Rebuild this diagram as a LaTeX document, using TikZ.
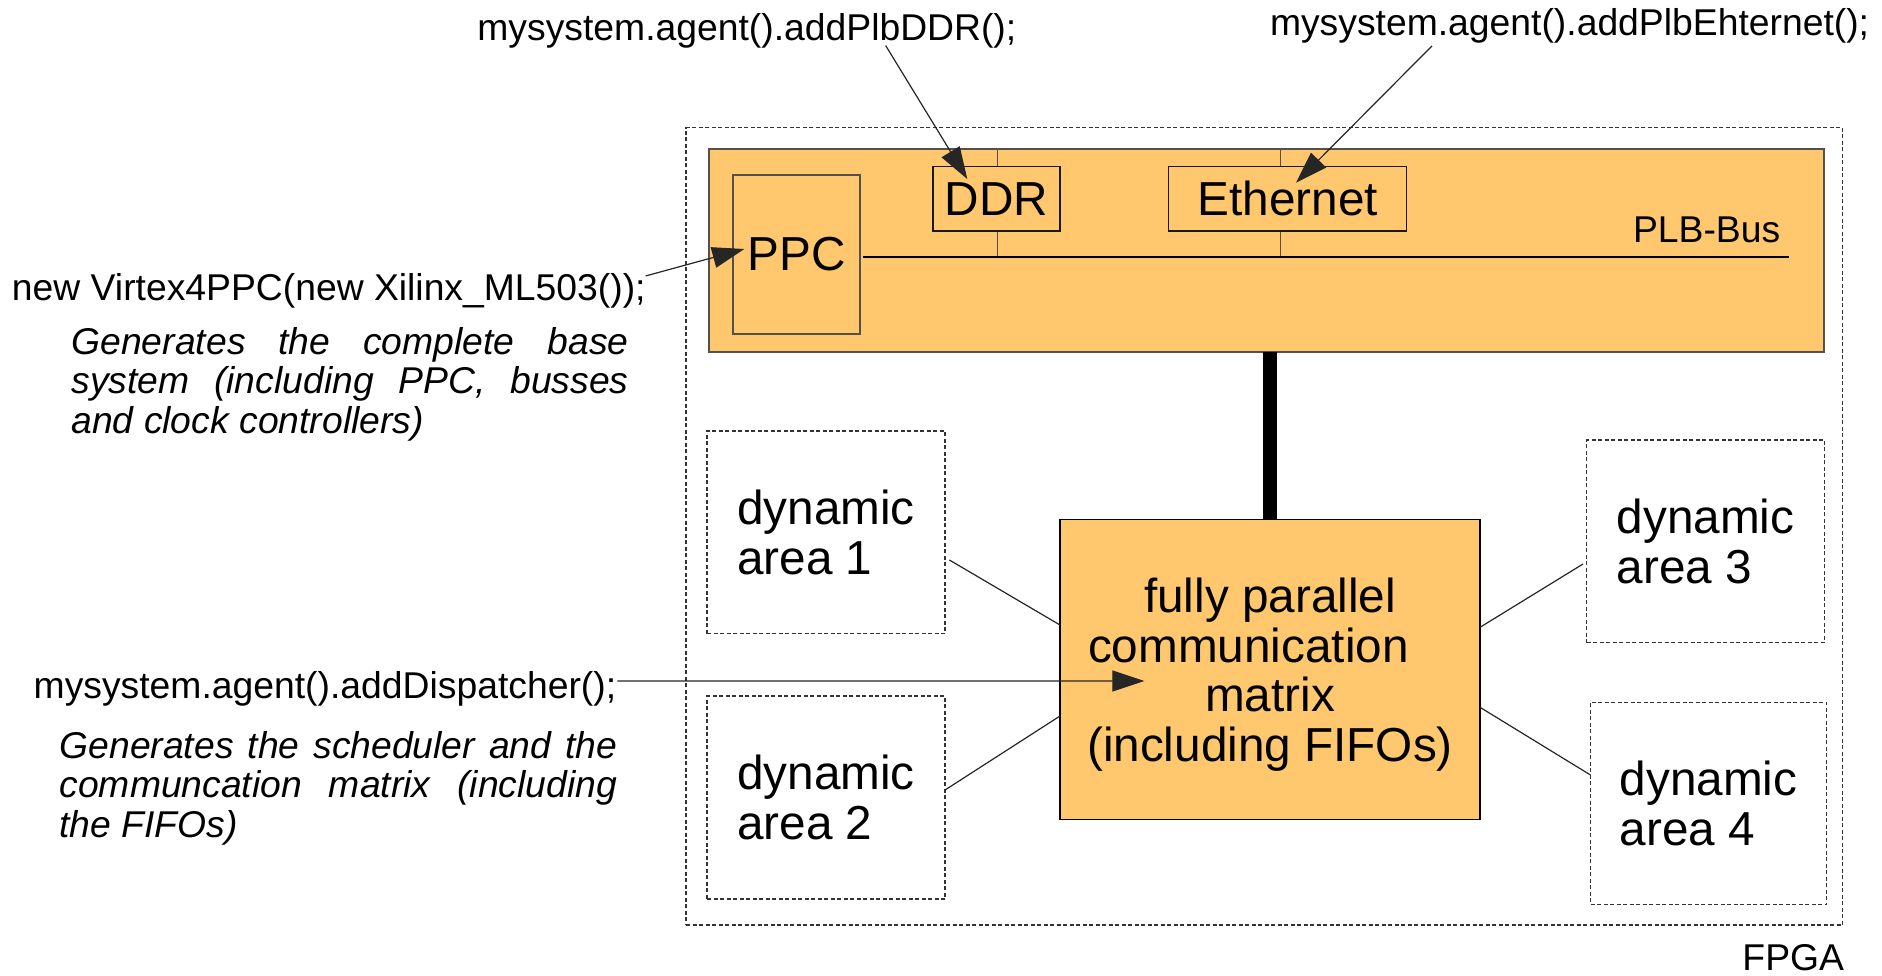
\documentclass[tikz,border=0pt]{standalone}
\usepackage{fontspec}
\setmainfont{Liberation Sans}
\usetikzlibrary{arrows.meta}
\definecolor{orfill}{RGB}{255,199,110}
\definecolor{bord}{RGB}{85,80,72}
\begin{document}
\begin{tikzpicture}[x=1pt,y=-1pt,
  box/.style={draw=bord, fill=orfill, line width=1.6pt, inner sep=0pt, outer sep=0pt},
  dashbox/.style={draw=black!80, line width=1.1pt, dash pattern=on 4pt off 2.5pt, inner sep=0pt, outer sep=0pt},
  code/.style={inner sep=0pt, outer sep=0pt, font=\fontsize{37.3}{39.3}\selectfont},
  big/.style={font=\fontsize{47.7}{49.5}\selectfont},
  desc/.style={inner sep=0pt, outer sep=0pt, align=left, font=\fontsize{37.3}{39.3}\selectfont\itshape},
  conn/.style={line width=1.2pt, draw=black!85},
  arr/.style={line width=1.2pt, draw=black!85, -{Triangle[length=32pt,width=21pt]}},
]
\fill[white] (0,0) rectangle (1882,975);
\useasboundingbox (0,0) rectangle (1882,975);

% FPGA frame
\node[dashbox, minimum width=1156.5pt, minimum height=797.5pt] (fpga) at (1264.25,526.25) {};
\node[code, anchor=base east] (fpgalbl) at (1844,970) {FPGA};

% PLB region
\node[box, minimum width=1115pt, minimum height=203pt] (plb) at (1266.5,250.5) {};
\coordinate (busL) at (862.7,257.3);
\coordinate (busR) at (1789,257.3);
\coordinate (ddrTap) at (997.7,149);
\coordinate (ethTap) at (1280.3,149);
\draw[line width=1.3pt, draw=bord] (ddrTap) -- (ddrTap |- busL);
\draw[line width=1.3pt, draw=bord] (ethTap) -- (ethTap |- busL);
\draw[line width=2pt] (busL) -- (busR);
\node[box, big, minimum width=127pt, minimum height=159pt] (ppc) at (796.5,254.5) {PPC};
\node[box, draw=black!90, line width=1.4pt, big, minimum width=127pt, minimum height=64.7pt] (ddr) at (996.5,198.7) {DDR};
\node[box, draw=black!90, line width=1.4pt, big, minimum width=238pt, minimum height=64.7pt] (eth) at (1287.7,198.7) {Ethernet};
\node[code, anchor=base west] (plblbl) at (1633,242.7) {PLB-Bus};

% communication matrix
\node[box, draw=black, big, align=center, minimum width=420pt, minimum height=300pt] (mat) at (1270,669.3)
  {\rule{0pt}{44.8pt}fully parallel\\\makebox[364pt][l]{communication}\\matrix\\(including FIFOs)};
\draw[line width=13.5pt] (mat.north |- plb.south) -- (mat.north);

% dynamic areas
\node[dashbox, big, align=left, minimum width=238pt, minimum height=202.7pt] (da1) at (826,532.3) {dynamic\\area 1};
\node[dashbox, big, align=left, minimum width=238pt, minimum height=203pt] (da2) at (826,797.5) {dynamic\\area 2};
\node[dashbox, big, align=left, minimum width=237.8pt, minimum height=202.7pt] (da3) at (1705.6,541.3) {dynamic\\area 3};
\node[dashbox, big, align=left, minimum width=236.2pt, minimum height=202.3pt] (da4) at (1708.6,803.2) {dynamic\\area 4};

\draw[conn] ([xshift=4.4pt,yshift=-27.7pt]da1.east) -- ([yshift=44.3pt]mat.west);
\draw[conn] ([yshift=7.5pt]da2.east) -- ([yshift=-46.7pt]mat.west);
\draw[conn] ([xshift=-3.7pt,yshift=-22.7pt]da3.west) -- ([yshift=42pt]mat.east);
\draw[conn] ([yshift=-38pt]mat.east) -- ([yshift=28.2pt]da4.west);

% code annotations
\node[code, anchor=base west] (vtx) at (12,300) {new Virtex4PPC(new Xilinx\_ML503());};
\node[desc, anchor=base west] (desc1) at (71.5,433)
  {\makebox[557pt][s]{Generates the complete base}\\\makebox[557pt][s]{system (including PPC, busses}\\and clock controllers)};
\node[code, anchor=base west] (ddrcode) at (477.4,40.7) {mysystem.agent().addPlbDDR();};
\node[code, anchor=base west] (ethcode) at (1270,35) {mysystem.agent().addPlbEhternet();};
\node[code, anchor=base west] (dispcode) at (33.7,698) {mysystem.agent().addDispatcher();};
\node[desc, anchor=base west] (desc2) at (59.6,837)
  {\makebox[557.5pt][s]{Generates the scheduler and the}\\\makebox[557.5pt][s]{communcation matrix (including}\\the FIFOs)};

\draw[arr] ([yshift=14.4pt]vtx.east) -- ([xshift=11.3pt,yshift=5.5pt]ppc.west);
\draw[arr] ([xshift=138.8pt,yshift=2.9pt]ddrcode.south) -- ([xshift=-29.2pt,yshift=-12.7pt]ddr.north);
\draw[arr] ([xshift=-137.5pt,yshift=-3.1pt]ethcode.south) -- ([xshift=8.3pt,yshift=-16.4pt]eth.north);
\draw[arr] ([xshift=1.3pt,yshift=7.4pt]dispcode.east) -- ([xshift=84.3pt,yshift=-11.7pt]mat.west);
\end{tikzpicture}
\end{document}
